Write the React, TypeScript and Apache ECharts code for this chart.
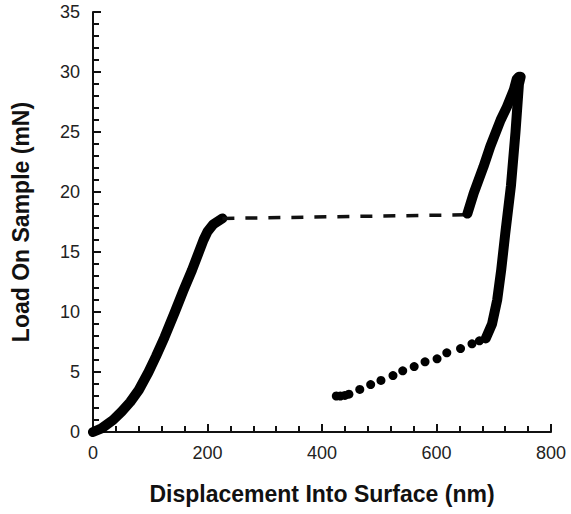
import React, { useEffect, useRef } from "react";
import * as echarts from "echarts";

// Loading segment 1 (displacement nm, load mN)
const loading1: [number, number][] = [
  [0, 0], [15, 0.3], [35, 1.0], [50, 1.7], [65, 2.5], [80, 3.5], [97, 5.0],
  [110, 6.3], [125, 7.9], [143, 10.0], [158, 11.8], [173, 13.5], [185, 15.0],
  [193, 16.0], [200, 16.7], [210, 17.3], [226, 17.8],
];
// Pop-in (dashed jump)
const popIn: [number, number][] = [
  [226, 17.8], [653, 18.1],
];
// Loading segment 2
const loading2: [number, number][] = [
  [654, 18.2], [665, 19.9], [682, 22.1], [694, 23.8], [712, 26.0], [723, 27.1],
  [735, 28.5], [740, 29.4], [744, 29.6],
];
// Unloading (dense)
const unloading: [number, number][] = [
  [747, 29.6], [744, 29.0], [738, 25.0], [730, 20.5], [720, 16.5], [713, 13.5],
  [706, 11.0], [697, 9.0], [686, 7.8],
];
// Unloading tail (sparse points)
const unloadTail: [number, number][] = [
  [675, 7.6], [662, 7.35], [642, 6.95], [618, 6.6], [601, 6.1], [580, 5.85],
  [561, 5.45], [541, 5.1], [524, 4.7], [503, 4.3], [485, 3.95], [466, 3.55],
  [447, 3.15], [440, 3.05], [432, 3.0], [425, 3.0],
];

const xTicks = [0, 200, 400, 600, 800];
const yTicks = [0, 5, 10, 15, 20, 25, 30, 35];

export default function App() {
  const ref = useRef<HTMLDivElement>(null);
  useEffect(() => {
    if (!ref.current) return;
    const chart = echarts.init(ref.current, undefined, { renderer: "svg" });
    const font = "'Liberation Sans', Arial, sans-serif";
    const axisCommon = {
      axisLine: { show: true, lineStyle: { color: "#111", width: 2 } },
      axisTick: { show: true, inside: true, length: 8, lineStyle: { color: "#111", width: 2 } },
      minorTick: { show: true, splitNumber: 5, length: 6, lineStyle: { color: "#111", width: 2 } },
      splitLine: { show: false },
      axisLabel: { color: "#222", fontSize: 18, fontFamily: font },
      nameLocation: "middle" as const,
      nameTextStyle: { color: "#111", fontSize: 23, fontWeight: "bold" as const, fontFamily: font },
    };
    const lineSeries = (data: [number, number][]) => ({
      type: "line",
      data,
      showSymbol: false,
      symbol: "none",
      lineStyle: { color: "#000", width: 10, cap: "round", join: "round" },
      silent: true,
    });
    chart.setOption({
      animation: false,
      backgroundColor: "#fff",
      grid: { left: 93, right: 20, top: 12, bottom: 82, containLabel: false },
      xAxis: {
        type: "value",
        min: xTicks[0],
        max: xTicks[xTicks.length - 1],
        interval: 200,
        name: "Displacement Into Surface (nm)",
        nameGap: 50,
        ...axisCommon,
        axisLabel: { ...axisCommon.axisLabel, margin: 12 },
      },
      yAxis: {
        type: "value",
        min: yTicks[0],
        max: yTicks[yTicks.length - 1],
        interval: 5,
        name: "Load On Sample (mN)",
        nameGap: 61,
        ...axisCommon,
        axisLabel: { ...axisCommon.axisLabel, margin: 13 },
      },
      series: [
        lineSeries(loading1),
        {
          type: "line",
          data: popIn,
          showSymbol: false,
          symbol: "none",
          lineStyle: { color: "#111", width: 3.5, type: [12, 11] },
        },
        lineSeries(loading2),
        lineSeries(unloading),
        {
          type: "scatter",
          data: unloadTail,
          symbol: "circle",
          symbolSize: 9,
          itemStyle: { color: "#000", opacity: 1 },
        },
      ],
    });
    return () => chart.dispose();
  }, []);
  return (
    <div
      ref={ref}
      style={{ position: "fixed", left: 0, top: 0, width: 571, height: 514, background: "#fff" }}
    />
  );
}
